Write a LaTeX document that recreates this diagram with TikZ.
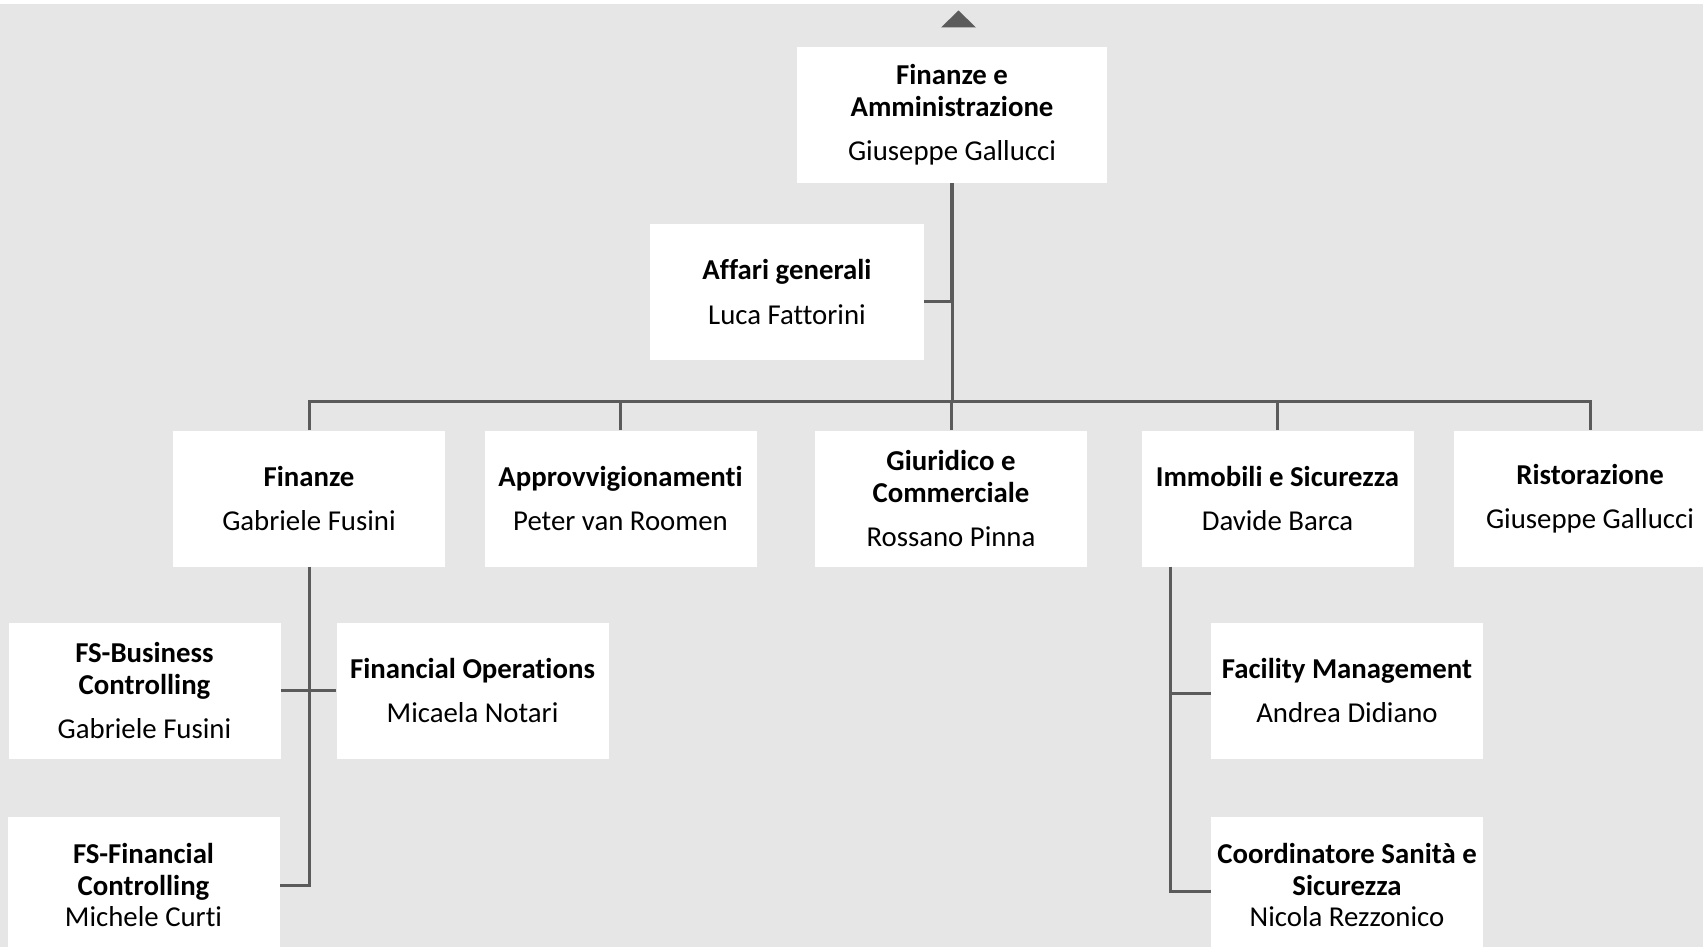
\documentclass[tikz,border=0pt]{standalone}
\usepackage{fontspec}
\setmainfont{Carlito}[Ligatures=NoCommon]
\definecolor{sfondo}{HTML}{E6E6E6}
\definecolor{linea}{HTML}{5B5B5B}
\begin{document}
\begin{tikzpicture}[x=1pt,y=-1pt,
		ufficio/.style={fill=white, minimum width=272pt, minimum height=136pt, inner sep=0pt, align=center, font=\fontsize{28.8}{31.5}\selectfont},
		conn/.style={draw=linea, line width=3pt}]
		\useasboundingbox (0,0) rectangle (1703,947);
		\fill[color=white] (0,0) rectangle (1703,947);
		\fill[color=sfondo] (0,4) rectangle (1703,947);
		\fill[color=linea] (941,27.5) -- (976,27.5) -- (958.5,10.5) -- cycle;
		% primo livello
		\node[ufficio, minimum width=310pt] (fa) at (952,115) {\textbf{Finanze e}\\\textbf{Amministrazione}\\[13pt]Giuseppe Gallucci};
		\node[ufficio, minimum width=274pt] (ag) at (787,292) {\textbf{Affari generali}\\[13pt]Luca Fattorini};
		% secondo livello
		\node[ufficio] (fin) at (309,498.5) {\textbf{Finanze}\\[13pt]Gabriele Fusini};
		\node[ufficio] (appr) at (620.5,498.5) {\textbf{Approvvigionamenti}\\[13pt]Peter van Roomen};
		\node[ufficio] (giur) at (951,498.5) {\textbf{Giuridico e}\\\textbf{Commerciale}\\[13pt]Rossano Pinna};
		\node[ufficio] (imm) at (1277.5,498.5) {\textbf{Immobili e Sicurezza}\\[13pt]Davide Barca};
		\node[ufficio] (rist) at (1590,498.5) {\textbf{Ristorazione}\\[13pt]Giuseppe Gallucci};
		% terzo livello
		\node[ufficio] (fsb) at (144.5,690.5) {\textbf{FS-Business}\\\textbf{Controlling}\\[13pt]Gabriele Fusini};
		\node[ufficio] (fop) at (472.5,690.5) {\textbf{Financial Operations}\\[13pt]Micaela Notari};
		\node[ufficio] (fsf) at (143.5,885) {\textbf{FS-Financial}\\\textbf{Controlling}\\Michele Curti};
		\node[ufficio] (fac) at (1347,690.5) {\textbf{Facility Management}\\[13pt]Andrea Didiano};
		\node[ufficio] (coo) at (1347,885) {\textbf{Coordinatore Sanità e}\\\textbf{Sicurezza}\\Nicola Rezzonico};
		% collegamenti
		\coordinate (bus) at (952,401);
		\coordinate (agj) at ([yshift=-9pt]ag.east);
		\coordinate (immt) at ([xshift=29pt]imm.south west);
		\coordinate (facj) at ([yshift=-3pt]fac.west);
		\coordinate (cooj) at ([yshift=-6pt]coo.west);
		\draw[conn, line width=4.6pt] (fa.south) -- (fa.south |- agj);
		\draw[conn] (agj) -- (fa.south |- agj) -- (bus);
		\draw[conn] (fin.north) |- (rist.north |- bus) -- (rist.north);
		\foreach \n in {appr,giur,imm}
			\draw[conn] (\n.north) -- (\n.north |- bus);
		\draw[conn] (fin.south) |- (fsf.east);
		\draw[conn] (fsb.east) -- (fop.west);
		\draw[conn] (immt) |- (cooj);
		\draw[conn] (immt |- facj) -- (facj);
	\end{tikzpicture}
\end{document}
